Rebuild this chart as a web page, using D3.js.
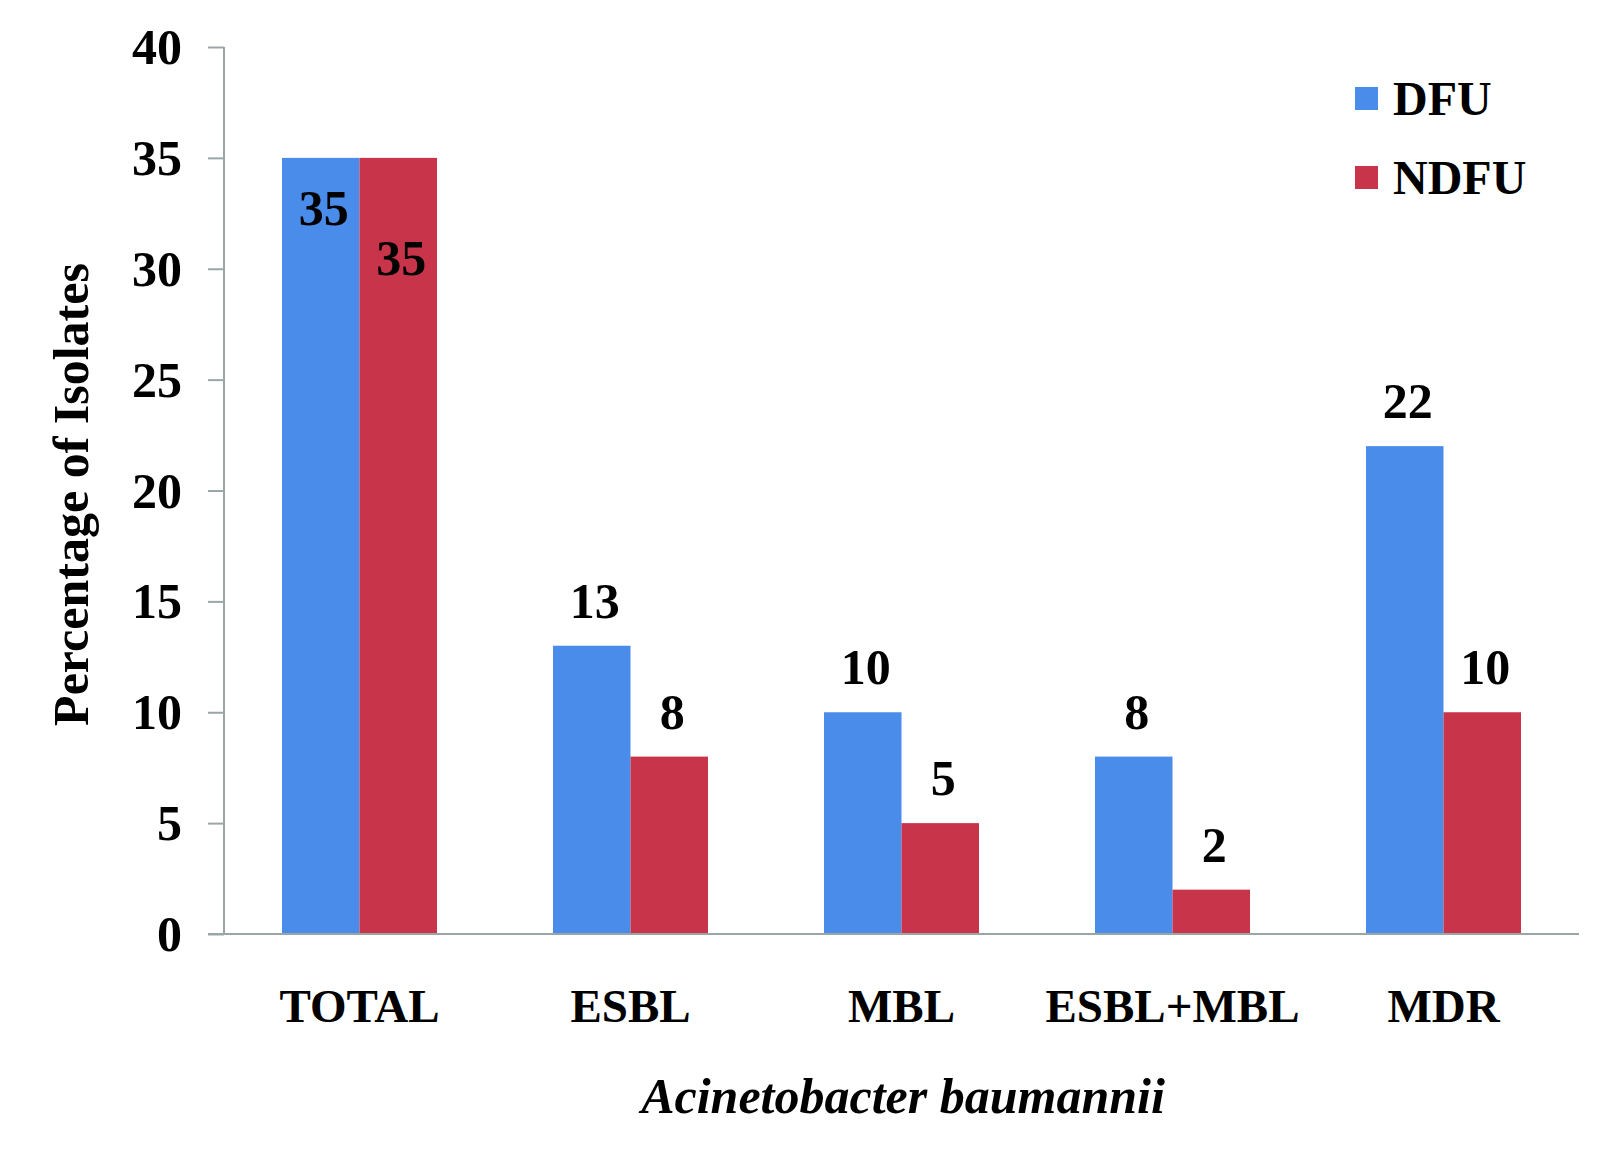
<!DOCTYPE html>
<html>
<head>
<meta charset="utf-8">
<script src="https://cdn.jsdelivr.net/npm/d3@7"></script>
<style>
  body { margin: 0; background: #fff; }
  svg { display: block; }
  text { font-family: "Liberation Serif", "Times New Roman", serif; font-weight: bold; fill: #000; }
</style>
</head>
<body>
<svg id="chart" width="1614" height="1160"></svg>
<script>
const categories = ["TOTAL", "ESBL", "MBL", "ESBL+MBL", "MDR"];
const seriesNames = ["DFU", "NDFU"];
const dfuValues = [35, 13, 10, 8, 22];
const ndfuValues = [35, 8, 5, 2, 10];
const yTicks = [0, 5, 10, 15, 20, 25, 30, 35, 40];
const colors = ["#4a8ce9", "#c8344a"];
const yTitle = "Percentage of Isolates";
const xTitle = "Acinetobacter baumannii";

(function () {
const svg = d3.select("#chart");
const mLeft = 224, mRight = 1579, mTop = 47, mBottom = 934;

const x = d3.scaleBand().domain(categories).range([mLeft, mRight]).paddingInner(0.428).paddingOuter(0.214);
const xs = d3.scaleBand().domain(seriesNames).range([0, x.bandwidth()]);
const y = d3.scaleLinear().domain([0, 40]).range([mBottom, mTop]);
const color = d3.scaleOrdinal().domain(seriesNames).range(colors);

const rows = categories.map((c, i) => ({ category: c, values: [
  { series: "DFU", value: dfuValues[i] },
  { series: "NDFU", value: ndfuValues[i] }
]}));

const g = svg.append("g");
const groups = g.selectAll("g.cat").data(rows).join("g")
  .attr("class", "cat")
  .attr("transform", d => `translate(${x(d.category)},0)`);
groups.selectAll("rect").data(d => d.values).join("rect")
  .attr("x", d => xs(d.series))
  .attr("y", d => y(d.value))
  .attr("width", xs.bandwidth())
  .attr("height", d => y(0) - y(d.value))
  .attr("fill", d => color(d.series));

groups.each(function (row) {
  const inside = row.category === "TOTAL";
  d3.select(this).selectAll("text.lbl").data(row.values).join("text")
    .attr("class", "lbl")
    .attr("x", d => xs(d.series) + xs.bandwidth() / 2 + 3)
    .attr("y", (d, i) => inside ? y(d.value) + (i === 0 ? 67 : 117) : y(d.value) - 28)
    .attr("text-anchor", "middle")
    .style("font-size", "50px")
    .text(d => d.value);
});

const yAxis = d3.axisLeft(y).tickValues(yTicks).tickSize(16).tickPadding(26);
const ya = svg.append("g").attr("transform", `translate(${mLeft},0)`).call(yAxis);
ya.select(".domain").attr("stroke", "#9aa6a6").attr("stroke-width", 2).attr("d", `M0,${mTop}V${mBottom}`);
ya.selectAll(".tick line").attr("stroke", "#9aa6a6").attr("stroke-width", 2);
ya.selectAll(".tick text").style("font-size", "50px").style("font-family", "Liberation Serif, serif")
  .style("font-weight", "bold").attr("fill", "#000").attr("dy", "0.33em");

const xAxis = d3.axisBottom(x).tickSize(0).tickPadding(55);
const xa = svg.append("g").attr("transform", `translate(0,${mBottom})`).call(xAxis);
xa.select(".domain").attr("stroke", "#9aa6a6").attr("stroke-width", 2).attr("d", `M${mLeft - 16},0H${mRight}`);
xa.selectAll(".tick text").style("font-size", "47px").style("font-family", "Liberation Serif, serif")
  .style("font-weight", "bold").attr("fill", "#000").attr("dy", "0.71em");

svg.append("text")
  .attr("transform", `translate(88,${(mTop + mBottom) / 2 + 4}) rotate(-90)`)
  .attr("text-anchor", "middle")
  .style("font-size", "50px")
  .text(yTitle);
svg.append("text")
  .attr("x", 903).attr("y", 1113)
  .attr("text-anchor", "middle")
  .style("font-size", "50px").style("font-style", "italic")
  .text(xTitle);

const legend = svg.append("g").attr("transform", "translate(1355,87)");
seriesNames.forEach((s, i) => {
  const lg = legend.append("g").attr("transform", `translate(0,${i * 79})`);
  lg.append("rect").attr("width", 23).attr("height", 23).attr("fill", color(s));
  lg.append("text").attr("x", 38).attr("y", 28).style("font-size", "48px").text(s);
});
})();
</script>
</body>
</html>
